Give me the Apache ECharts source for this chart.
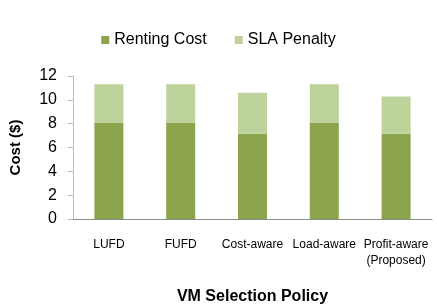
<!DOCTYPE html>
<html>
<head>
<meta charset="utf-8">
<title>VM Selection Policy cost</title>
<script src="https://cdn.jsdelivr.net/npm/echarts@6/dist/echarts.min.js"></script>
<style>
  html, body { margin: 0; padding: 0; background: #fff; }
  #chart { width: 437px; height: 306px; }
</style>
</head>
<body>
<div id="chart"></div>
<script>
// data
var policies = ['LUFD', 'FUFD', 'Cost-aware', 'Load-aware', 'Profit-aware\n(Proposed)'];
var rentingCost = [8.1, 8.1, 7.15, 8.1, 7.15];
var slaPenalty = [3.2, 3.2, 3.45, 3.2, 3.13];
var yTicks = [0, 2, 4, 6, 8, 10, 12];

var font = '"Liberation Sans", "DejaVu Sans", sans-serif';
var chart = echarts.init(document.getElementById('chart'));

chart.setOption({
    animation: false,
    textStyle: { fontFamily: font },
    legend: {
        top: 27,
        left: 'center',
        icon: 'rect',
        itemWidth: 8,
        itemHeight: 8,
        itemGap: 28,
        textStyle: { fontSize: 16, color: '#000', fontFamily: font },
        data: ['Renting Cost', 'SLA Penalty']
    },
    grid: { left: 72, right: 5, top: 76, bottom: 86 },
    xAxis: {
        type: 'category',
        data: policies,
        name: 'VM Selection Policy',
        nameLocation: 'middle',
        nameGap: 70,
        nameTextStyle: { fontSize: 16, fontWeight: 'bold', color: '#000' },
        axisLine: { lineStyle: { color: '#8c8c8c', width: 1 } },
        axisTick: { length: 4, lineStyle: { color: '#8c8c8c' } },
        axisLabel: { fontSize: 12, color: '#000', margin: 18, lineHeight: 16, interval: 0 }
    },
    yAxis: {
        type: 'value',
        min: yTicks[0],
        max: yTicks[yTicks.length - 1],
        interval: 2,
        name: 'Cost ($)',
        nameLocation: 'middle',
        nameGap: 50,
        nameTextStyle: { fontSize: 15, fontWeight: 'bold', color: '#000' },
        splitLine: { show: false },
        axisLine: { show: true, lineStyle: { color: '#bfbfbf' } },
        axisTick: { show: true, length: 5, lineStyle: { color: '#bfbfbf' } },
        axisLabel: { fontSize: 16, color: '#000', margin: 16 }
    },
    series: [
        {
            name: 'Renting Cost',
            type: 'bar',
            stack: 'cost',
            barWidth: 29,
            itemStyle: { color: '#8ca54d' },
            data: rentingCost
        },
        {
            name: 'SLA Penalty',
            type: 'bar',
            stack: 'cost',
            barWidth: 29,
            itemStyle: { color: '#bdd39b' },
            data: slaPenalty
        }
    ]
});
</script>
</body>
</html>
